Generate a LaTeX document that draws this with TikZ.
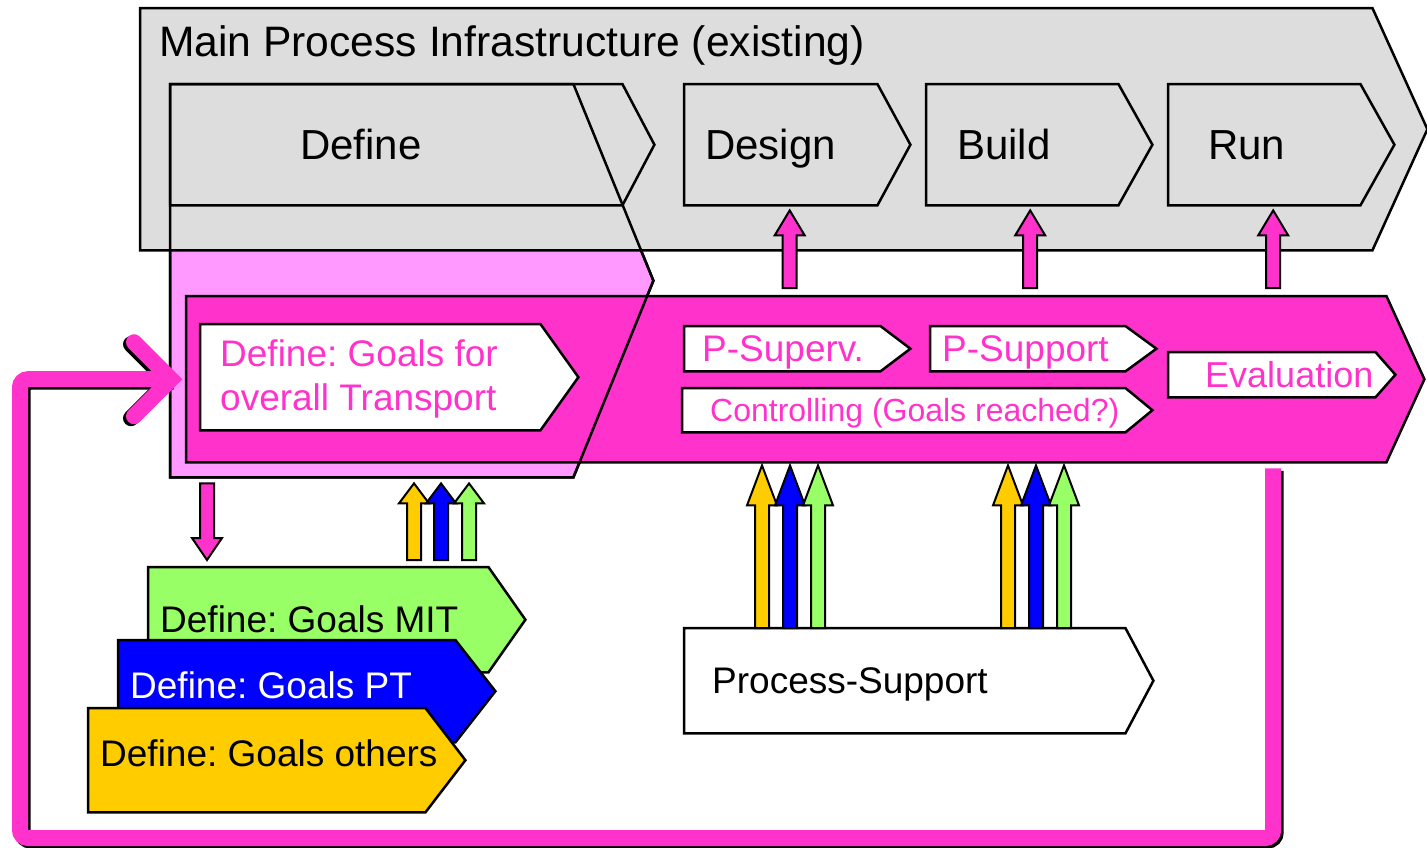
\documentclass[tikz,border=0pt]{standalone}
\usepackage{fontspec}
\setmainfont{Liberation Sans}
\usepackage{xcolor}
\usepackage{tikz}
\usetikzlibrary{calc,positioning}
\frenchspacing
\definecolor{procgray}{HTML}{DDDDDD}
\definecolor{hotpink}{HTML}{FF33CC}
\definecolor{lightpink}{HTML}{FF99FF}
\definecolor{goalgreen}{HTML}{99FF66}
\definecolor{goalblue}{HTML}{0000FF}
\definecolor{goalyellow}{HTML}{FFCC00}
\pgfdeclarelayer{bg}
\pgfsetlayers{bg,main}
\tikzset{stagebox/.style={rectangle, anchor=north west, inner sep=0pt}}
\tikzset{stagetext/.style={inner sep=0pt, text depth=0pt, text height=#1}}
\tikzset{outline/.style={draw=black, line width=2.5pt, line join=miter}}
\tikzset{blockline/.style={draw=black, line width=2pt, line join=miter}}
\tikzset{loopline/.style={draw=hotpink, line width=16pt, rounded corners=8pt}}
\newcommand{\fsTitle}{\fontsize{42.6}{50}\selectfont}
\newcommand{\fsStage}{\fontsize{42}{50}\selectfont}
\newcommand{\fsBox}{\fontsize{37}{44}\selectfont}
\newcommand{\fsEval}{\fontsize{36}{44}\selectfont}
\newcommand{\fsCtrl}{\fontsize{32}{40}\selectfont}
% pentagon arrow round a body node, drawn behind the texts
\newcommand{\stageshape}[3]{%
	\begin{pgfonlayer}{bg}
		\path [outline, #3] (#1.north west) -- (#1.north east) -- ($(#1.east)+(#2,0)$) -- (#1.south east) -- (#1.south west) -- cycle;
	\end{pgfonlayer}}
% block arrow: colour, base, tip, head length
\newcommand{\blockarrow}[4]{%
	\coordinate (babase) at (#2);
	\coordinate (batip) at (#3);
	\coordinate (bahead) at ($(batip)!#4!(babase)$);
	\draw [blockline, fill=#1] ($(babase)!7pt!90:(batip)$) -- ($(bahead)!7pt!90:(batip)$) -- ($(bahead)!15pt!90:(batip)$) -- (batip) -- ($(bahead)!15pt!-90:(batip)$) -- ($(bahead)!7pt!-90:(batip)$) -- ($(babase)!7pt!-90:(batip)$) -- cycle;}

\begin{document}
\begin{tikzpicture}[x=1pt, y=-1pt]
		\useasboundingbox (0,0) rectangle (1427,847);
		
		% bodies
		\node [stagebox, minimum width=403pt, minimum height=393pt] (column) at (170,84) {};
		\node [stagebox, minimum width=1232pt, minimum height=242pt] (main) at (140,8) {};
		\node [stagebox, minimum width=452pt, minimum height=121pt] (define) at (170,84) {};
		\node [stagebox, minimum width=193pt, minimum height=121pt] (design) at (684,84) {};
		\node [stagebox, minimum width=192pt, minimum height=121pt] (build) at (926,84) {};
		\node [stagebox, minimum width=192pt, minimum height=121pt] (run) at (1168,84) {};
		\node [stagebox, minimum width=1200pt, minimum height=166pt] (band) at (186,296) {};
		\node [stagebox, minimum width=340pt, minimum height=106pt] (overall) at (200,324) {};
		\node [stagebox, minimum width=196pt, minimum height=45pt] (psuperv) at (684,326) {};
		\node [stagebox, minimum width=195pt, minimum height=45pt] (psupport) at (930,326) {};
		\node [stagebox, minimum width=443pt, minimum height=44pt] (ctrl) at (682,388) {};
		\node [stagebox, minimum width=207pt, minimum height=45pt] (eval) at (1168,352) {};
		\node [stagebox, minimum width=340pt, minimum height=105pt] (mitgoal) at (148,567) {};
		\node [stagebox, minimum width=337pt, minimum height=102pt] (ptgoal) at (118,640) {};
		\node [stagebox, minimum width=337pt, minimum height=104pt] (othersgoal) at (88,708) {};
		\node [stagebox, minimum width=441pt, minimum height=105pt] (procsup) at (684,628) {};
		
		\stageshape{column}{80}{fill=lightpink}
		\stageshape{main}{55}{fill=procgray}
		\stageshape{define}{32}{fill=procgray}
		\stageshape{design}{33}{fill=procgray}
		\stageshape{build}{34}{fill=procgray}
		\stageshape{run}{34}{fill=procgray}
		\stageshape{band}{38}{fill=hotpink}
		\stageshape{overall}{38}{fill=white}
		\stageshape{psuperv}{30}{fill=white}
		\stageshape{psupport}{31}{fill=white}
		\stageshape{ctrl}{27}{fill=white}
		\stageshape{eval}{20}{fill=white}
		\stageshape{mitgoal}{37}{fill=goalgreen}
		\stageshape{ptgoal}{40}{fill=goalblue}
		\stageshape{othersgoal}{40}{fill=goalyellow}
		\stageshape{procsup}{28}{fill=white}
		% the define column is outlined once more on top
		\stageshape{column}{80}{}
		
		% texts
		\node [inner sep=0pt, anchor=base west, font=\fsTitle] (maintxt) at (159,56) {Main Process Infrastructure (existing)};
		\node [stagetext=30pt, font=\fsStage, right=130pt of define.west] (definetxt) {Define};
		\node [stagetext=30pt, font=\fsStage, right=21pt of design.west] (designtxt) {Design};
		\node [stagetext=30pt, font=\fsStage, right=31pt of build.west] (buildtxt) {Build};
		\node [stagetext=30pt, font=\fsStage, right=40pt of run.west] (runtxt) {Run};
		\node [inner sep=0pt, align=left, font=\fsBox, text=hotpink, right=20pt of overall.west, yshift=-2pt] (overalltxt) {Define: Goals for\\overall Transport};
		\node [stagetext=26.5pt, font=\fsBox, text=hotpink, right=18pt of psuperv.west] (psupervtxt) {P-Superv.};
		\node [stagetext=26.5pt, font=\fsBox, text=hotpink, right=12pt of psupport.west] (psupporttxt) {P-Support};
		\node [stagetext=23pt, font=\fsCtrl, text=hotpink, right=28pt of ctrl.west] (ctrltxt) {Controlling (Goals reached?)};
		\node [stagetext=26pt, font=\fsEval, text=hotpink, right=37pt of eval.west] (evaltxt) {Evaluation};
		\node [stagetext=26.5pt, font=\fsBox, right=12pt of mitgoal.west] (mittxt) {Define: Goals MIT};
		\node [stagetext=26.5pt, font=\fsBox, text=white, right=12pt of ptgoal.west, yshift=6pt] (pttxt) {Define: Goals PT};
		\node [stagetext=26.5pt, font=\fsBox, right=12pt of othersgoal.west, yshift=7pt] (otherstxt) {Define: Goals others};
		\node [stagetext=26.5pt, font=\fsBox, right=28pt of procsup.west] (procsuptxt) {Process-Support};
		
		% band feeds the stages
		\blockarrow{hotpink}{$(design.south |- band.north)+(9,-8)$}{$(babase |- design.south)+(0,5)$}{25pt}
		\blockarrow{hotpink}{$(build.south |- band.north)+(8,-8)$}{$(babase |- build.south)+(0,5)$}{25pt}
		\blockarrow{hotpink}{$(run.south |- band.north)+(9,-8)$}{$(babase |- run.south)+(0,5)$}{25pt}
		
		% define column and goals
		\blockarrow{hotpink}{$(column.south west)+(37,6)$}{$(babase |- mitgoal.north)+(0,-7)$}{22pt}
		\blockarrow{goalyellow}{$(mitgoal.north west)+(266,-7)$}{$(babase |- column.south)+(0,6)$}{20pt}
		\blockarrow{goalblue}{$(mitgoal.north west)+(293,-7)$}{$(babase |- column.south)+(0,6)$}{20pt}
		\blockarrow{goalgreen}{$(mitgoal.north west)+(321,-7)$}{$(babase |- column.south)+(0,6)$}{20pt}
		
		% process support into the band
		\blockarrow{goalyellow}{$(procsup.north west)+(78,0)$}{$(babase |- band.south)+(0,3)$}{40pt}
		\blockarrow{goalblue}{$(procsup.north west)+(106,0)$}{$(babase |- band.south)+(0,3)$}{40pt}
		\blockarrow{goalgreen}{$(procsup.north west)+(134,0)$}{$(babase |- band.south)+(0,3)$}{40pt}
		\blockarrow{goalyellow}{$(procsup.north west)+(324,0)$}{$(babase |- band.south)+(0,3)$}{40pt}
		\blockarrow{goalblue}{$(procsup.north west)+(352,0)$}{$(babase |- band.south)+(0,3)$}{40pt}
		\blockarrow{goalgreen}{$(procsup.north west)+(380,0)$}{$(babase |- band.south)+(0,3)$}{40pt}
		
		% feedback loop
		\coordinate (loopstart) at ($(run.south |- band.south)+(9,6)$);
		\coordinate (loopcorner) at (20,838);
		\draw [loopline, draw=black, transform canvas={shift={(2.5pt,-2.5pt)}}] (loopstart) |- (loopcorner) -- (loopcorner |- band.west) -- ($(band.west)+(-15,0)$);
		\draw [loopline, draw=black, sharp corners, line cap=round, transform canvas={shift={(-3pt,-2pt)}}] ($(band.west)+(-52,-37)$) -- ($(band.west)+(-15,0)$) -- ($(band.west)+(-52,37)$);
		\draw [loopline] (loopstart) |- (loopcorner) -- (loopcorner |- band.west) -- ($(band.west)+(-15,0)$);
		\draw [loopline, sharp corners, line cap=round] ($(band.west)+(-52,-37)$) -- ($(band.west)+(-15,0)$) -- ($(band.west)+(-52,37)$);
		
\end{tikzpicture}
\end{document}
